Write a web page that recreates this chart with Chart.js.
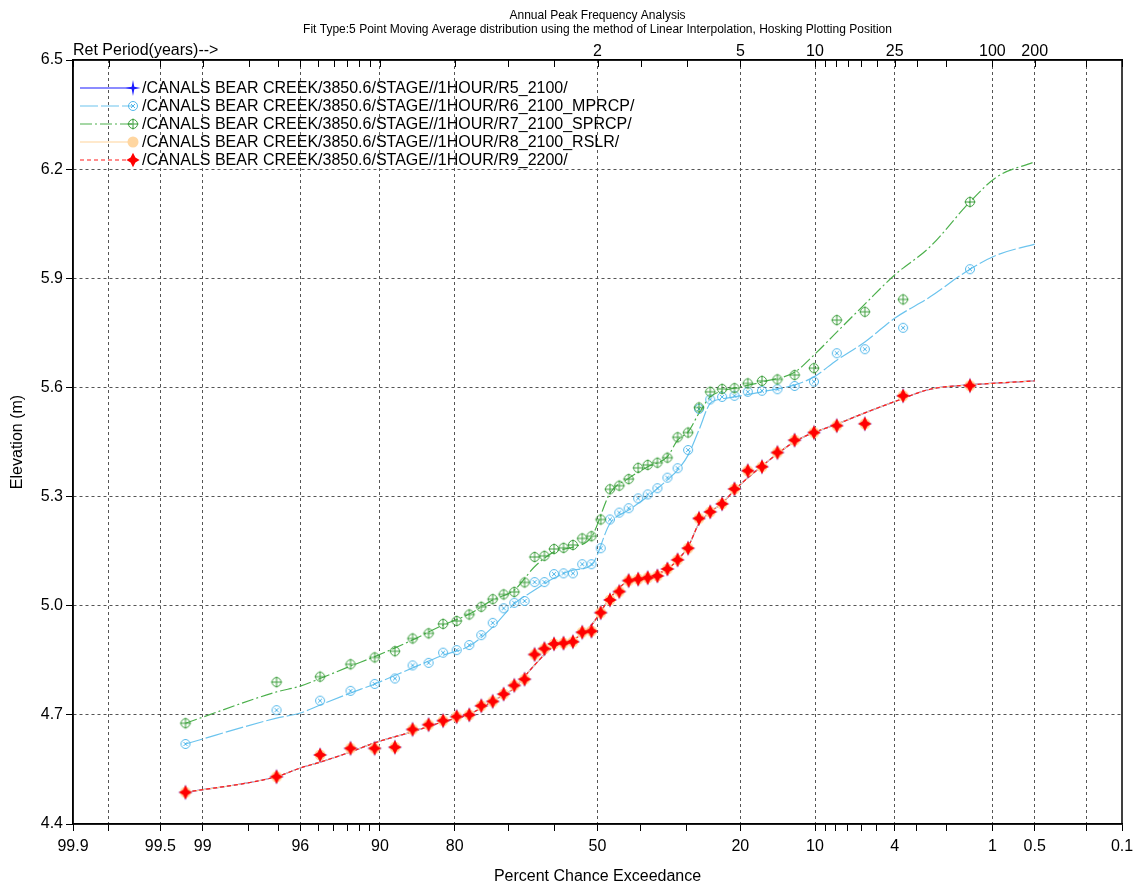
<!DOCTYPE html>
<html>
<head>
<meta charset="utf-8">
<title>Annual Peak Frequency Analysis</title>
<script src="https://cdn.jsdelivr.net/npm/chart.js@4.4.1/dist/chart.umd.min.js"></script>
<style>
  html, body { margin: 0; padding: 0; background: #fff; }
  #wrap { width: 1134px; height: 884px; position: relative; }
</style>
</head>
<body>
<div id="wrap"><canvas id="freq"></canvas></div>
<script>
// Hosking plotting positions (% chance exceedance), rank 1 = largest annual peak
const plotPct = [1.41, 3.59, 5.76, 7.93, 10.11, 12.28, 14.46, 16.63, 18.80, 20.98,
  23.15, 25.33, 27.50, 29.67, 31.85, 34.02, 36.20, 38.37, 40.54, 42.72,
  44.89, 47.07, 49.24, 51.41, 53.59, 55.76, 57.93, 60.11, 62.28, 64.46,
  66.63, 68.80, 70.98, 73.15, 75.33, 77.50, 79.67, 81.85, 84.02, 86.20,
  88.37, 90.54, 92.72, 94.89, 97.07, 99.24];

// ranked annual peak stages (m)
const r9Stage = [5.605, 5.577, 5.500, 5.495, 5.476, 5.455, 5.421, 5.382, 5.371, 5.321,
  5.280, 5.258, 5.240, 5.158, 5.126, 5.101, 5.082, 5.077, 5.073, 5.069,
  5.039, 5.016, 4.981, 4.930, 4.927, 4.901, 4.897, 4.895, 4.882, 4.866,
  4.798, 4.781, 4.757, 4.737, 4.725, 4.700, 4.695, 4.684, 4.673, 4.660,
  4.611, 4.608, 4.608, 4.590, 4.530, 4.487];
const r5Stage = r9Stage.slice();
const r8Stage = r9Stage.slice();
const r6Stage = [5.925, 5.764, 5.705, 5.694, 5.616, 5.604, 5.595, 5.591, 5.588, 5.577,
  5.574, 5.567, 5.541, 5.428, 5.378, 5.352, 5.323, 5.306, 5.295, 5.268,
  5.256, 5.237, 5.158, 5.114, 5.114, 5.089, 5.089, 5.087, 5.065, 5.065,
  5.013, 5.008, 4.993, 4.953, 4.919, 4.892, 4.878, 4.871, 4.843, 4.836,
  4.800, 4.785, 4.766, 4.739, 4.713, 4.620];
const r7Stage = [6.110, 5.842, 5.808, 5.785, 5.653, 5.634, 5.622, 5.618, 5.611, 5.598,
  5.596, 5.588, 5.545, 5.476, 5.463, 5.407, 5.393, 5.387, 5.379, 5.348,
  5.330, 5.320, 5.237, 5.191, 5.185, 5.167, 5.159, 5.156, 5.137, 5.134,
  5.064, 5.038, 5.031, 5.018, 4.997, 4.976, 4.958, 4.950, 4.924, 4.910,
  4.875, 4.858, 4.839, 4.805, 4.790, 4.677];

// fitted frequency curves, left to right along the probability axis
const fitPct = [99.24, 97.07, 96, 94.89, 92.72, 90.54, 86.20, 81.85, 77.50, 73.15,
  68.80, 64.46, 60.11, 55.76, 51.41, 47.07, 42.72, 38.37, 34.02, 31.85,
  29.67, 27.50, 25.33, 23.15, 20.98, 16.63, 12.28, 10.11, 7.93, 5.76,
  4, 2.5, 1.41, 0.93, 0.5];
const r9Fit = [4.487, 4.530, 4.554, 4.570, 4.598, 4.623, 4.654, 4.681, 4.702, 4.738,
  4.774, 4.837, 4.889, 4.906, 4.947, 5.021, 5.069, 5.079, 5.101, 5.126,
  5.162, 5.226, 5.258, 5.281, 5.318, 5.384, 5.451, 5.476, 5.499, 5.530,
  5.561, 5.595, 5.607, 5.612, 5.618];
const r5Fit = r9Fit.slice();
const r8Fit = r9Fit.slice();
const r6Fit = [4.620, 4.691, 4.705, 4.727, 4.760, 4.785, 4.829, 4.864, 4.889, 4.941,
  5.005, 5.043, 5.076, 5.098, 5.112, 5.226, 5.263, 5.300, 5.346, 5.373,
  5.414, 5.483, 5.556, 5.568, 5.574, 5.588, 5.607, 5.629, 5.675, 5.725,
  5.790, 5.849, 5.925, 5.964, 5.994];
const r7Fit = [4.677, 4.763, 4.779, 4.800, 4.834, 4.860, 4.906, 4.947, 4.977, 5.016,
  5.043, 5.107, 5.148, 5.161, 5.189, 5.309, 5.350, 5.382, 5.410, 5.455,
  5.478, 5.529, 5.574, 5.590, 5.598, 5.615, 5.642, 5.689, 5.752, 5.829,
  5.909, 5.987, 6.110, 6.179, 6.220];

const seriesNames = [
  '/CANALS BEAR CREEK/3850.6/STAGE//1HOUR/R5_2100/',
  '/CANALS BEAR CREEK/3850.6/STAGE//1HOUR/R6_2100_MPRCP/',
  '/CANALS BEAR CREEK/3850.6/STAGE//1HOUR/R7_2100_SPRCP/',
  '/CANALS BEAR CREEK/3850.6/STAGE//1HOUR/R8_2100_RSLR/',
  '/CANALS BEAR CREEK/3850.6/STAGE//1HOUR/R9_2200/'
];

// axis ticks
const xTickPct = [99.9, 99.8, 99.5, 99, 98, 97, 96, 95, 94, 93, 92, 91, 90, 80, 70, 60,
  50, 40, 30, 20, 10, 9, 8, 7, 6, 5, 4, 3, 2, 1, 0.5, 0.2, 0.1];
const xLabelPct = [99.9, 99.5, 99, 96, 90, 80, 50, 20, 10, 4, 1, 0.5, 0.1];
const xGridPct = [99.8, 99.5, 99, 96, 90, 80, 50, 20, 10, 4, 1, 0.5, 0.2];
const retPct = [50, 20, 10, 4, 1, 0.5];
const retYears = [2, 5, 10, 25, 100, 200];
const yTicks = [4.4, 4.7, 5.0, 5.3, 5.6, 5.9, 6.2, 6.5];

const titleLines = [
  'Annual Peak Frequency Analysis',
  'Fit Type:5 Point Moving Average distribution using the method of Linear Interpolation, Hosking Plotting Position'
];

const FONT = '"Liberation Sans", Arial, sans-serif';
const GRID = '#555';

// inverse standard normal (Acklam)
function normInv(p) {
  const a = [-3.969683028665376e+01, 2.209460984245205e+02, -2.759285104469687e+02, 1.383577518672690e+02, -3.066479806614716e+01, 2.506628277459239e+00];
  const b = [-5.447609879822406e+01, 1.615858368580409e+02, -1.556989798598866e+02, 6.680131188771972e+01, -1.328068155288572e+01];
  const c = [-7.784894002430293e-03, -3.223964580411365e-01, -2.400758277161838e+00, -2.549732539343734e+00, 4.374664141464968e+00, 2.938163982698783e+00];
  const d = [7.784695709041462e-03, 3.224671290700398e-01, 2.445134137142996e+00, 3.754408661907416e+00];
  const lo = 0.02425;
  let q, r;
  if (p < lo) {
    q = Math.sqrt(-2 * Math.log(p));
    return (((((c[0]*q+c[1])*q+c[2])*q+c[3])*q+c[4])*q+c[5]) / ((((d[0]*q+d[1])*q+d[2])*q+d[3])*q+1);
  }
  if (p <= 1 - lo) {
    q = p - 0.5; r = q * q;
    return (((((a[0]*r+a[1])*r+a[2])*r+a[3])*r+a[4])*r+a[5])*q / (((((b[0]*r+b[1])*r+b[2])*r+b[3])*r+b[4])*r+1);
  }
  q = Math.sqrt(-2 * Math.log(1 - p));
  return -(((((c[0]*q+c[1])*q+c[2])*q+c[3])*q+c[4])*q+c[5]) / ((((d[0]*q+d[1])*q+d[2])*q+d[3])*q+1);
}
function normCdf(z) {
  const t = 1 / (1 + 0.2316419 * Math.abs(z));
  const y = 1 - 0.3989423 * Math.exp(-z * z / 2) * t * (0.3193815 + t * (-0.3565638 + t * (1.781478 + t * (-1.821256 + t * 1.330274))));
  return z >= 0 ? y : 1 - y;
}
const zOf = pct => normInv(1 - pct / 100);

// normal probability axis, exceedance decreasing left to right
class ProbabilityScale extends Chart.Scale {
  determineDataLimits() { this.min = 99.9; this.max = 0.1; }
  buildTicks() { return xTickPct.map(v => ({ value: v })); }
  configure() {
    super.configure();
    this._z0 = zOf(this.min);
    this._z1 = zOf(this.max);
  }
  getPixelForValue(v) {
    return this.getPixelForDecimal((zOf(v) - this._z0) / (this._z1 - this._z0));
  }
  getValueForPixel(px) {
    const z = this._z0 + this.getDecimalForPixel(px) * (this._z1 - this._z0);
    return 100 * (1 - normCdf(z));
  }
  getLabelForValue(v) { return String(v); }
}
ProbabilityScale.id = 'probability';
ProbabilityScale.defaults = {};
Chart.register(ProbabilityScale);

// point markers
function marker(size, draw) {
  const c = document.createElement('canvas');
  c.width = c.height = size;
  const g = c.getContext('2d');
  g.translate(size / 2, size / 2);
  draw(g);
  return c;
}
function star(g, ry, rx, r) {
  const k = r * 0.7071;
  g.beginPath();
  g.moveTo(0, -ry); g.lineTo(k, -k); g.lineTo(rx, 0); g.lineTo(k, k);
  g.lineTo(0, ry); g.lineTo(-k, k); g.lineTo(-rx, 0); g.lineTo(-k, -k);
  g.closePath();
}
function ring(g, color, inner) {
  g.strokeStyle = color; g.lineWidth = 1;
  g.beginPath(); g.arc(0, 0, 4.5, 0, Math.PI * 2); g.stroke();
  g.beginPath();
  if (inner === 'x') { g.moveTo(-2, -2); g.lineTo(2, 2); g.moveTo(2, -2); g.lineTo(-2, 2); }
  else { g.moveTo(-5.5, 0); g.lineTo(5.5, 0); g.moveTo(0, -5.5); g.lineTo(0, 5.5); }
  g.stroke();
}
const colors = ['#1a1aff', '#6cc4ee', '#4cb04c', '#ffd49a', '#ff1a1a'];
const markR5 = marker(18, g => { star(g, 8, 7.5, 1.8); g.fillStyle = colors[0]; g.fill(); });
const markR6 = marker(14, g => ring(g, '#4fb6ea', 'x'));
const markR7 = marker(14, g => ring(g, '#3c9e3c', '+'));
const markR8 = marker(14, g => { g.fillStyle = '#ffd6a0'; g.beginPath(); g.arc(0, 0, 5.5, 0, Math.PI * 2); g.fill(); });
const markR9 = marker(16, g => { star(g, 7.2, 6.6, 3.4); g.fillStyle = '#ff0000'; g.fill(); });

const dashes = [[], [18, 3], [12, 3, 2, 3], [], [4, 3]];
const marks = [markR5, markR6, markR7, markR8, markR9];

function pointSet(i, values, order) {
  return {
    label: seriesNames[i],
    data: plotPct.map((p, k) => ({ x: p, y: values[k] })),
    showLine: false, pointStyle: marks[i], pointRadius: 5, order
  };
}
function fitSet(i, values, order) {
  return {
    label: seriesNames[i] + ' fit',
    data: fitPct.map((p, k) => ({ x: p, y: values[k] })),
    borderColor: colors[i], borderWidth: 1.2, borderDash: dashes[i],
    pointRadius: 0, cubicInterpolationMode: 'monotone', order
  };
}

// fixed axis box sizes, no extra room for overhanging end labels
function fixHeight(s) {
  s.height = 60;
  s.paddingLeft = 0;
  s.paddingRight = 0;
}

const decor = {
  id: 'decor',
  afterDraw(chart) {
    const { ctx, chartArea: a } = chart;
    const top = chart.scales.x2;
    ctx.save();
    ctx.strokeStyle = '#000';
    ctx.lineWidth = 1;
    top.ticks.forEach(t => {
      const px = Math.round(top.getPixelForValue(t.value)) + 0.5;
      ctx.beginPath(); ctx.moveTo(px, a.top); ctx.lineTo(px, a.top + 7); ctx.stroke();
    });
    ctx.lineWidth = 1.5;
    ctx.strokeRect(a.left, a.top, a.right - a.left, a.bottom - a.top);

    ctx.fillStyle = '#000';
    ctx.font = '12px ' + FONT;
    ctx.textAlign = 'center';
    ctx.textBaseline = 'alphabetic';
    const cx = (a.left + a.right) / 2;
    ctx.fillText(titleLines[0], cx, 19);
    ctx.fillText(titleLines[1], cx, 33);
    ctx.font = '16px ' + FONT;
    ctx.textAlign = 'left';
    ctx.fillText('Ret Period(years)-->', a.left, 55);

    // legend
    seriesNames.forEach((name, i) => {
      const y = 88 + i * 18;
      ctx.strokeStyle = colors[i];
      ctx.lineWidth = 1.2;
      ctx.setLineDash(dashes[i]);
      ctx.beginPath(); ctx.moveTo(80, y); ctx.lineTo(133, y); ctx.stroke();
      ctx.setLineDash([]);
      ctx.drawImage(marks[i], 133 - marks[i].width / 2, y - marks[i].height / 2);
      ctx.fillStyle = '#000';
      ctx.textBaseline = 'middle';
      ctx.fillText(name, 142, y + 1);
    });
    ctx.restore();
  }
};

new Chart(document.getElementById('freq'), {
  type: 'line',
  data: {
    datasets: [
      pointSet(4, r9Stage, 0),
      pointSet(3, r8Stage, 1),
      pointSet(0, r5Stage, 2),
      pointSet(2, r7Stage, 3),
      pointSet(1, r6Stage, 4),
      fitSet(4, r9Fit, 5),
      fitSet(3, r8Fit, 6),
      fitSet(0, r5Fit, 7),
      fitSet(2, r7Fit, 8),
      fitSet(1, r6Fit, 9)
    ]
  },
  options: {
    responsive: true,
    maintainAspectRatio: false,
    animation: false,
    events: [],
    devicePixelRatio: 1,
    layout: { padding: { left: 0, right: 12, top: 0, bottom: 0 } },
    plugins: { legend: { display: false }, title: { display: false }, tooltip: { enabled: false } },
    font: { family: FONT },
    scales: {
      x: {
        type: 'probability',
        position: 'bottom',
        afterFit: fixHeight,
        border: { color: '#000', width: 1.5, dash: [3, 3] },
        grid: {
          color: c => (c.tick && xGridPct.includes(c.tick.value)) ? GRID : 'rgba(0,0,0,0)',
          tickColor: '#000', tickLength: 7, lineWidth: 1
        },
        ticks: {
          autoSkip: false, maxRotation: 0, padding: 6, color: '#000',
          font: { family: FONT, size: 16 },
          callback: v => xLabelPct.includes(v) ? String(v) : ''
        },
        title: { display: true, text: 'Percent Chance Exceedance', color: '#000',
          font: { family: FONT, size: 16 }, padding: { top: 0, bottom: -2 } }
      },
      x2: {
        type: 'probability',
        position: 'top',
        afterFit: fixHeight,
        border: { color: '#000', width: 1.5 },
        grid: { drawOnChartArea: false, drawTicks: false },
        ticks: {
          autoSkip: false, maxRotation: 0, padding: -1, color: '#000',
          font: { family: FONT, size: 16 },
          callback: v => { const k = retPct.indexOf(v); return k >= 0 ? String(retYears[k]) : ''; }
        }
      },
      y: {
        type: 'linear',
        min: 4.4, max: 6.5,
        afterFit: s => { s.width = 73; },
        afterBuildTicks: s => { s.ticks = yTicks.map(v => ({ value: v })); },
        border: { color: '#000', width: 1.5, dash: [3, 3] },
        grid: {
          color: c => (c.tick && c.tick.value > 4.41 && c.tick.value < 6.49) ? GRID : 'rgba(0,0,0,0)',
          tickColor: '#000', tickLength: 7, lineWidth: 1
        },
        ticks: {
          padding: 3, color: '#000', font: { family: FONT, size: 16 },
          callback: v => Number(v).toFixed(1)
        },
        title: { display: true, text: 'Elevation (m)', color: '#000',
          font: { family: FONT, size: 16 }, padding: { top: 8, bottom: 0 } }
      }
    }
  },
  plugins: [decor]
});
</script>
</body>
</html>
